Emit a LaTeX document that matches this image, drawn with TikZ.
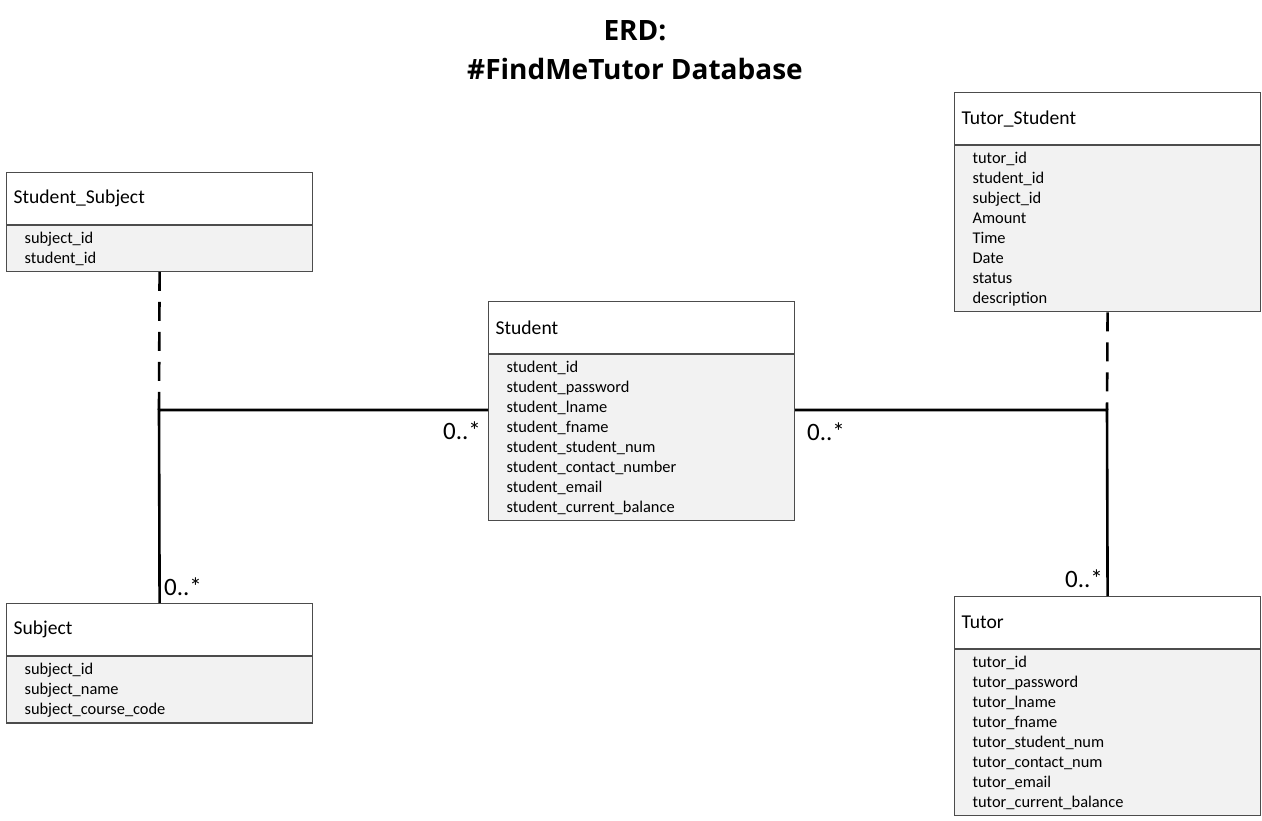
\documentclass[tikz,border=0pt]{standalone}
\usepackage{fontspec}
\setmainfont{Carlito}
\newfontfamily\titlefont{Open Sans}
\usetikzlibrary{positioning}

\begin{document}
\begin{tikzpicture}[x=1pt, y=-1pt,
entity/.style={draw=black!70, line width=1.2pt, minimum width=306pt,
  text width=292pt, align=left, inner xsep=7pt, anchor=north west},
head/.style={entity, fill=white, minimum height=52pt,
  font=\fontsize{19.6}{22}\selectfont},
attrs/.style={entity, fill=black!5, inner xsep=18pt, text width=270pt,
  inner ysep=6pt, font=\fontsize{16.4}{20}\selectfont},
link/.style={line width=2.6pt},
mult/.style={font=\fontsize{25}{27}\selectfont, inner sep=1pt}]
\useasboundingbox (0,0) rectangle (1262,821);
% title
\node[font=\titlefont\bfseries\fontsize{28}{32}\selectfont] (t1) at (635,31) {ERD:};
\node[font=\titlefont\bfseries\fontsize{28}{32}\selectfont] (t2) at (635,69) {\#FindMeTutor Database};
% entities
\node[head] (ssh) at (6,172) {Student\_Subject};
\node[attrs, below=0pt of ssh.south west, anchor=north west] (ssa)
  {subject\_id\\student\_id};
\node[head] (suh) at (6,603) {Subject};
\node[attrs, below=0pt of suh.south west, anchor=north west] (sua)
  {subject\_id\\subject\_name\\subject\_course\_code};
\node[head] (sth) at (488,301) {Student};
\node[attrs, below=0pt of sth.south west, anchor=north west] (sta)
  {student\_id\\student\_password\\student\_lname\\student\_fname\\
   student\_student\_num\\student\_contact\_number\\student\_email\\
   student\_current\_balance};
\node[head] (tsh) at (954,92) {Tutor\_Student};
\node[attrs, below=0pt of tsh.south west, anchor=north west] (tsa)
  {tutor\_id\\student\_id\\subject\_id\\Amount\\Time\\Date\\status\\description};
\node[head] (tuh) at (954,596) {Tutor};
\node[attrs, below=0pt of tuh.south west, anchor=north west] (tua)
  {tutor\_id\\tutor\_password\\tutor\_lname\\tutor\_fname\\
   tutor\_student\_num\\tutor\_contact\_num\\tutor\_email\\
   tutor\_current\_balance};
% relationships
\coordinate (jl) at (159,410);
\coordinate (jr) at (1107,410);
\draw[link, dash pattern=on 19pt off 11pt] (ssa.south) -- (jl);
\draw[link] (jl -| sta.west) -- (jl) -- (suh.north);
\draw[link, dash pattern=on 19pt off 11pt] (tsa.south) -- (jr);
\draw[link] (jr -| sta.east) -- (jr) -- (tuh.north);
\node[mult] (m1) at (462,431) {0..*};
\node[mult] (m2) at (826,432) {0..*};
\node[mult] (m3) at (183,587) {0..*};
\node[mult] (m4) at (1084,579) {0..*};
\end{tikzpicture}
\end{document}
